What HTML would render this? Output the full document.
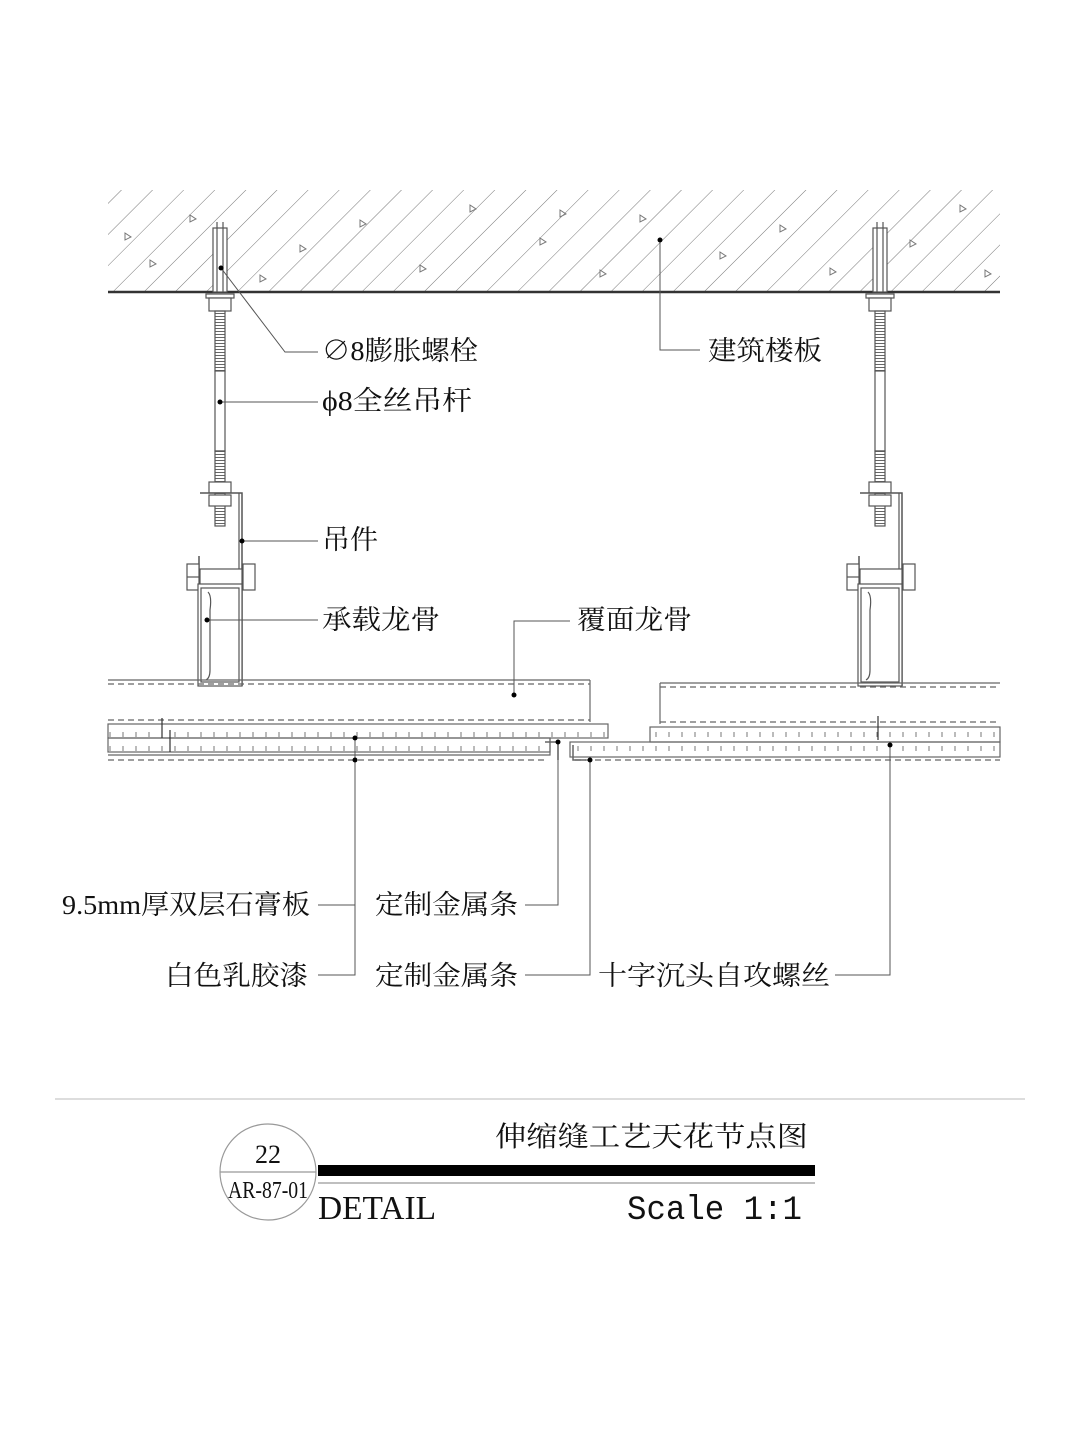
<!DOCTYPE html>
<html><head><meta charset="utf-8"><style>
html,body{margin:0;padding:0;background:#fff}
svg{display:block}
text{font-family:"Liberation Serif","Noto Serif CJK SC","Noto Sans CJK SC",serif;fill:#111}
</style></head><body>
<svg width="1080" height="1439" viewBox="0 0 1080 1439" xmlns="http://www.w3.org/2000/svg">
<defs>
<pattern id="hatch" patternUnits="userSpaceOnUse" width="22" height="22" patternTransform="rotate(45)">
<line x1="0" y1="0" x2="0" y2="22" stroke="#777" stroke-width="1"/>
</pattern>
<pattern id="thread" patternUnits="userSpaceOnUse" width="4" height="3">
<line x1="0" y1="1.5" x2="4" y2="1.5" stroke="#666" stroke-width="1"/>
</pattern>
<pattern id="dots" patternUnits="userSpaceOnUse" width="13" height="14">
<line x1="6" y1="4" x2="6" y2="9" stroke="#777" stroke-width="1"/>
</pattern>
<g id="hanger" fill="none" stroke="#555" stroke-width="1.2">
<rect x="-7" y="228" width="14" height="64" fill="#fff"/>
<line x1="-3" y1="222" x2="-3" y2="292"/><line x1="3" y1="222" x2="3" y2="292"/>
<rect x="-14" y="294" width="28" height="4" fill="#fff"/>
<rect x="-11" y="298" width="22" height="13" fill="#fff"/>
<rect x="-5" y="311" width="10" height="60" fill="url(#thread)"/>
<rect x="-5" y="371" width="10" height="80" fill="#fff"/>
<rect x="-5" y="451" width="10" height="75" fill="url(#thread)"/>
<rect x="-11" y="482" width="22" height="11" fill="#fff"/>
<rect x="-11" y="495" width="22" height="11" fill="#fff"/>
<polyline points="-20,493 22,493 22,686" stroke-width="1.5"/>
<line x1="19" y1="493" x2="19" y2="686"/>
<line x1="-21" y1="556" x2="-21" y2="600" stroke-width="1.5"/>
<rect x="-33" y="564" width="12" height="26" fill="#fff"/>
<line x1="-33" y1="577" x2="-21" y2="577"/>
<rect x="-20" y="569" width="42" height="17" fill="#fff"/>
<rect x="23" y="564" width="12" height="26" fill="#fff"/>
<rect x="-22" y="584" width="44" height="102" fill="#fff"/>
<rect x="-19" y="588" width="38" height="94"/>
<path d="M-12 592 Q-8 596 -10 610 L-10 670 Q-10 678 -14 680"/>
</g>
</defs>

<rect x="108" y="190" width="892" height="102" fill="url(#hatch)"/>
<g fill="none" stroke="#777">
<path d="M125 233 l6 4 l-6 3z"/><path d="M150 260 l6 4 l-6 3z"/><path d="M190 215 l6 4 l-6 3z"/><path d="M300 245 l6 4 l-6 3z"/><path d="M360 220 l6 4 l-6 3z"/><path d="M420 265 l6 4 l-6 3z"/><path d="M470 205 l6 4 l-6 3z"/><path d="M540 238 l6 4 l-6 3z"/><path d="M600 270 l6 4 l-6 3z"/><path d="M640 215 l6 4 l-6 3z"/><path d="M720 252 l6 4 l-6 3z"/><path d="M780 225 l6 4 l-6 3z"/><path d="M830 268 l6 4 l-6 3z"/><path d="M910 240 l6 4 l-6 3z"/><path d="M960 205 l6 4 l-6 3z"/><path d="M985 270 l6 4 l-6 3z"/><path d="M260 275 l6 4 l-6 3z"/><path d="M560 210 l6 4 l-6 3z"/>
</g>
<line x1="108" y1="292" x2="1000" y2="292" stroke="#333" stroke-width="2.5"/>

<use href="#hanger" transform="translate(220,0)"/>
<use href="#hanger" transform="translate(880,0)"/>

<g fill="none" stroke="#666" stroke-width="1.2">
<line x1="108" y1="680" x2="590" y2="680"/>
<line x1="108" y1="684" x2="590" y2="684" stroke-dasharray="6 4"/>
<line x1="590" y1="680" x2="590" y2="722"/>
<line x1="108" y1="720" x2="590" y2="720" stroke-dasharray="6 4"/>
<rect x="108" y="724" width="500" height="14" fill="url(#dots)"/>
<rect x="108" y="738" width="442" height="14" fill="url(#dots)"/>
<line x1="108" y1="760" x2="545" y2="760" stroke-dasharray="6 4"/>
<polyline points="550,738 550,755 108,755"/>
<line x1="660" y1="683" x2="1000" y2="683"/>
<line x1="660" y1="687" x2="1000" y2="687" stroke-dasharray="6 4"/>
<line x1="660" y1="683" x2="660" y2="724"/>
<line x1="660" y1="722" x2="1000" y2="722" stroke-dasharray="6 4"/>
<rect x="650" y="727" width="350" height="15" fill="url(#dots)"/>
<rect x="570" y="742" width="430" height="15" fill="url(#dots)"/>
<line x1="575" y1="760" x2="1000" y2="760" stroke-dasharray="6 4"/>
<polyline points="545,742 558,742 558,760" stroke-width="1.5"/>
<polyline points="573,745 573,760 586,760" stroke-width="1.5"/>
<line x1="162" y1="718" x2="162" y2="738" stroke="#333"/>
<line x1="170" y1="730" x2="170" y2="752" stroke="#333"/>
<line x1="878" y1="716" x2="878" y2="740" stroke="#333"/>
</g>

<g fill="none" stroke="#555" stroke-width="1">
<polyline points="221,268 285,352 318,352"/>
<line x1="220" y1="402" x2="318" y2="402"/>
<polyline points="660,240 660,350 700,350"/>
<line x1="242" y1="541" x2="318" y2="541"/>
<line x1="207" y1="620" x2="318" y2="620"/>
<polyline points="514,695 514,621 570,621"/>
<polyline points="355,738 355,905 318,905"/>
<polyline points="355,760 355,975 318,975"/>
<polyline points="558,742 558,905 525,905"/>
<polyline points="590,760 590,975 525,975"/>
<polyline points="890,745 890,975 835,975"/>
</g>
<g fill="#000">
<circle cx="221" cy="268" r="2.5"/><circle cx="220" cy="402" r="2.5"/><circle cx="660" cy="240" r="2.5"/>
<circle cx="242" cy="541" r="2.5"/><circle cx="207" cy="620" r="2.5"/><circle cx="514" cy="695" r="2.5"/>
<circle cx="355" cy="738" r="2.5"/><circle cx="355" cy="760" r="2.5"/><circle cx="558" cy="742" r="2.5"/>
<circle cx="590" cy="760" r="2.5"/><circle cx="890" cy="745" r="2.5"/>
</g>

<g font-size="27" lengthAdjust="spacingAndGlyphs">
<text x="322" y="360" textLength="156" lengthAdjust="spacingAndGlyphs">∅8膨胀螺栓</text>
<text x="322" y="410" textLength="150" lengthAdjust="spacingAndGlyphs">ϕ8全丝吊杆</text>
<text x="708" y="360" textLength="114" lengthAdjust="spacingAndGlyphs">建筑楼板</text>
<text x="322" y="549" textLength="56" lengthAdjust="spacingAndGlyphs">吊件</text>
<text x="322" y="629" textLength="118" lengthAdjust="spacingAndGlyphs">承载龙骨</text>
<text x="577" y="629" textLength="115" lengthAdjust="spacingAndGlyphs">覆面龙骨</text>
<text x="62" y="914" textLength="248" lengthAdjust="spacingAndGlyphs">9.5mm厚双层石膏板</text>
<text x="375" y="914" textLength="143" lengthAdjust="spacingAndGlyphs">定制金属条</text>
<text x="165" y="985" textLength="143" lengthAdjust="spacingAndGlyphs">白色乳胶漆</text>
<text x="375" y="985" textLength="143" lengthAdjust="spacingAndGlyphs">定制金属条</text>
<text x="598" y="985" textLength="232" lengthAdjust="spacingAndGlyphs">十字沉头自攻螺丝</text>
</g>

<line x1="55" y1="1099" x2="1025" y2="1099" stroke="#bbb" stroke-width="1"/>
<circle cx="268" cy="1172" r="48" fill="none" stroke="#999" stroke-width="1.2"/>
<line x1="220" y1="1172" x2="316" y2="1172" stroke="#999" stroke-width="1.2"/>
<rect x="318" y="1165" width="497" height="11" fill="#000"/>
<line x1="318" y1="1183" x2="815" y2="1183" stroke="#999" stroke-width="1.2"/>
<text x="268" y="1163" font-size="26" text-anchor="middle">22</text>
<text x="268" y="1198" font-size="24" text-anchor="middle" textLength="80" lengthAdjust="spacingAndGlyphs">AR-87-01</text>
<text x="318" y="1219" font-size="34" textLength="118" lengthAdjust="spacingAndGlyphs">DETAIL</text>
<text x="627" y="1219" font-size="34" style="font-family:'Liberation Mono',monospace" textLength="175" lengthAdjust="spacingAndGlyphs">Scale 1:1</text>
<text x="495" y="1146" font-size="28" textLength="313" lengthAdjust="spacingAndGlyphs">伸缩缝工艺天花节点图</text>
</svg>
</body></html>
